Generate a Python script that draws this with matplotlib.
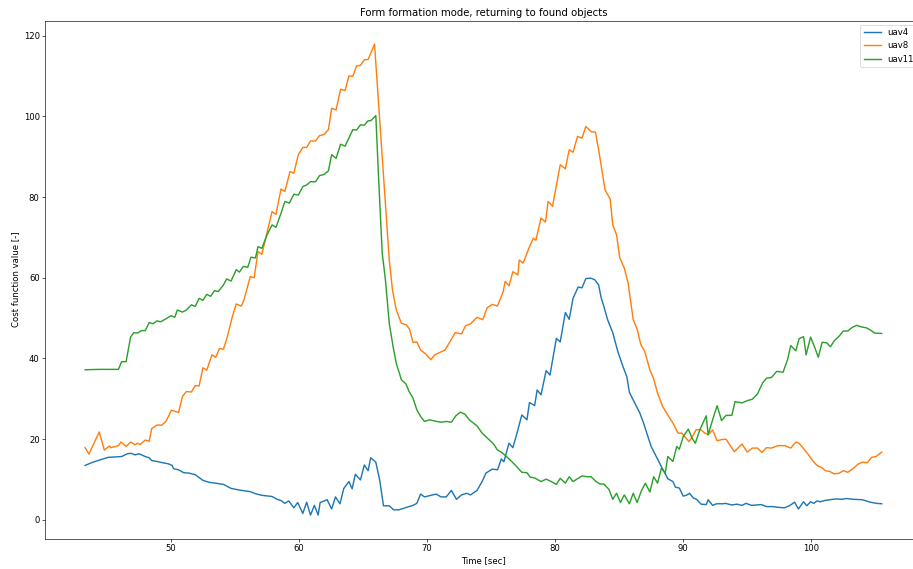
import matplotlib
matplotlib.use("Agg")
import matplotlib.pyplot as plt

# values
t4 = [43.3, 43.9, 45.1, 46.15, 46.6, 46.9, 47.2, 47.5, 48.0, 48.3, 48.5, 48.9, 49.3, 49.8, 50.1, 50.2,
      50.6, 51.0, 51.4, 51.9, 52.5, 53.0, 53.5, 54.1, 54.7, 55.35, 56.2, 56.6, 57.1, 57.9, 58.3, 58.6,
      58.9, 59.2, 59.6, 59.9, 60.3, 60.6, 60.9, 61.2, 61.5, 61.65, 62.2, 62.55, 62.85, 63.2, 63.5, 63.9,
      64.15, 64.4, 64.8, 65.1, 65.4, 65.6, 66.0, 66.3, 66.6, 67.05, 67.4, 67.8, 68.9, 69.2, 69.5, 69.8,
      70.7, 71.1, 71.5, 71.9, 72.3, 72.7, 73.1, 73.4, 73.9, 74.3, 74.6, 75.1, 75.5, 75.8, 76.0, 76.4,
      76.7, 77.0, 77.4, 77.8, 78.0, 78.4, 78.6, 78.9, 79.3, 79.6, 80.1, 80.4, 80.8, 81.1, 81.4, 81.8,
      82.1, 82.4, 82.8, 83.1, 83.4, 83.6, 83.8, 84.1, 84.5, 84.9, 85.3, 85.6, 85.8, 86.2, 86.6, 86.9,
      87.2, 87.5, 87.9, 88.3, 88.6, 88.8, 89.2, 89.4, 89.7, 90.0, 90.25, 90.5, 90.8, 91.05, 91.4, 91.8,
      91.95, 92.3, 92.6, 93.1, 93.3, 93.8, 94.2, 94.6, 94.9, 95.35, 95.7, 96.1, 96.5, 97.0, 97.5, 97.9,
      98.3, 98.7, 99.0, 99.4, 99.65, 99.95, 100.2, 100.45, 100.7, 101.05, 101.45, 101.95, 102.4, 102.75,
      103.3, 104.0, 104.6, 105.1, 105.5]
uav4 = [13.5, 14.3, 15.5, 15.7, 16.4, 16.5, 16.1, 16.4, 15.7, 15.4, 14.7, 14.5, 14.2, 13.9, 13.5, 12.7,
        12.4, 11.7, 11.6, 11.2, 9.8, 9.3, 9.1, 8.8, 7.8, 7.4, 7.0, 6.5, 6.1, 5.8, 5.1, 4.8,
        4.1, 4.7, 3.0, 4.3, 1.6, 4.4, 1.2, 3.6, 1.2, 4.3, 5.0, 2.7, 5.7, 4.0, 7.8, 9.5,
        7.7, 11.3, 9.9, 13.6, 12.2, 15.4, 14.3, 9.9, 3.5, 3.5, 2.5, 2.5, 3.6, 4.1, 6.4, 5.7,
        6.4, 5.7, 5.7, 7.3, 5.1, 6.2, 6.6, 6.2, 7.3, 9.5, 11.6, 12.6, 12.4, 15.1, 14.4, 19.0,
        17.9, 21.2, 26.0, 24.8, 29.1, 28.3, 32.2, 31.0, 37.0, 35.9, 45.0, 44.1, 51.4, 49.7, 54.9, 57.7,
        57.5, 59.8, 59.9, 59.5, 58.2, 55.0, 53.0, 49.6, 46.4, 41.7, 38.0, 35.5, 31.6, 29.1, 26.6, 24.1,
        21.1, 18.2, 15.7, 13.2, 11.4, 10.2, 9.5, 8.1, 7.9, 5.9, 6.1, 6.6, 5.4, 5.1, 3.9, 3.8,
        5.0, 3.6, 4.0, 4.0, 4.1, 3.7, 3.9, 3.6, 4.1, 3.6, 3.7, 3.8, 3.3, 3.3, 3.1, 3.0,
        3.5, 4.4, 2.7, 4.5, 3.5, 4.5, 4.1, 4.7, 4.5, 4.8, 5.0, 5.2, 5.1, 5.3,
        5.1, 5.0, 4.4, 4.1, 4.0]

t8 = [43.3, 43.6, 44.4, 44.8, 45.2, 45.3, 45.9, 46.1, 46.5, 46.85, 47.2, 47.4, 47.6, 48.0, 48.3, 48.5,
      48.9, 49.3, 49.6, 49.8, 50.05, 50.6, 50.9, 51.2, 51.6, 51.9, 52.2, 52.5, 52.8, 53.2, 53.5, 53.8,
      54.1, 54.4, 54.8, 55.1, 55.5, 55.7, 56.2, 56.5, 56.8, 57.1, 57.9, 58.2, 58.6, 58.9, 59.3, 59.6,
      59.95, 60.3, 60.6, 60.9, 61.3, 61.6, 61.95, 62.3, 62.55, 62.9, 63.25, 63.6, 63.9, 64.2, 64.5, 64.8,
      65.1, 65.4, 65.9, 67.05, 67.3, 67.6, 68.0, 68.4, 68.65, 68.9, 69.2, 69.5, 69.9, 70.3, 70.6, 71.0,
      71.4, 71.8, 72.2, 72.7, 73.0, 73.4, 73.9, 74.35, 74.7, 75.1, 75.5, 75.95, 76.1, 76.4, 76.7, 77.1,
      77.2, 77.5, 78.0, 78.3, 78.5, 78.9, 79.25, 79.45, 79.8, 80.4, 80.8, 81.1, 81.4, 81.75, 82.1, 82.4,
      82.8, 83.15, 83.4, 83.9, 84.3, 84.5, 84.8, 85.05, 85.4, 85.7, 86.1, 86.4, 86.7, 87.0, 87.4, 87.7,
      88.0, 88.4, 88.8, 89.2, 89.6, 89.9, 90.45, 90.7, 91.0, 91.35, 91.7, 91.95, 92.3, 92.65, 93.0, 93.35,
      93.7, 94.0, 94.4, 94.6, 95.0, 95.4, 95.8, 96.15, 96.5, 96.9, 97.4, 97.95, 98.4, 98.8, 99.05, 99.5,
      99.8, 100.1, 100.45, 100.8, 101.1, 101.45, 101.8, 102.2, 102.5, 102.85, 103.3, 103.65, 104.0, 104.4,
      104.7, 105.05, 105.5]
uav8 = [17.9, 16.3, 21.8, 17.3, 18.3, 17.9, 18.4, 19.3, 18.2, 19.3, 18.6, 19.0, 18.7, 19.8, 19.5, 22.6,
        23.5, 23.5, 24.4, 25.6, 27.2, 26.6, 30.6, 31.8, 31.7, 33.3, 33.2, 37.7, 37.1, 40.9, 40.3, 42.5,
        42.3, 45.3, 50.4, 53.5, 53.0, 54.5, 60.3, 60.0, 66.5, 65.8, 76.4, 75.7, 82.0, 81.4, 86.3, 85.9,
        90.5, 92.3, 92.3, 93.9, 93.9, 95.2, 95.5, 96.7, 102.0, 101.6, 106.7, 106.4, 110.0, 109.9, 112.5, 112.6,
        114.0, 114.1, 117.9, 64.4, 57.0, 52.0, 48.7, 48.3, 47.1, 44.0, 44.1, 42.1, 41.1, 39.7, 40.9, 41.5,
        42.1, 44.2, 46.4, 46.1, 48.1, 48.6, 50.2, 49.6, 52.6, 53.4, 53.0, 56.6, 59.1, 58.0, 61.5, 60.7,
        64.4, 63.6, 67.7, 69.8, 69.3, 74.8, 73.8, 78.9, 77.7, 88.0, 87.0, 91.7, 91.1, 95.0, 94.6, 97.5,
        96.2, 96.1, 91.7, 81.8, 79.5, 73.1, 70.6, 64.9, 62.4, 58.7, 49.6, 47.3, 43.4, 41.7, 37.2, 34.9,
        31.4, 28.1, 26.0, 24.0, 21.5, 21.5, 19.4, 20.5, 22.3, 22.4, 21.5, 21.1, 22.3, 19.6, 19.9, 20.0,
        18.3, 16.9, 18.2, 18.8, 16.8, 17.8, 17.8, 16.7, 17.9, 17.8, 18.4, 18.4, 17.8, 19.3, 19.0, 17.3,
        16.1, 14.7, 13.5, 13.0, 12.2, 12.0, 11.4, 11.6, 12.2, 11.8, 12.8, 13.8, 14.3, 14.2,
        15.5, 15.7, 16.8]

t11 = [43.3, 44.4, 45.9, 46.15, 46.5, 46.85, 47.1, 47.4, 47.7, 48.0, 48.3, 48.6, 48.9, 49.2, 49.6, 50.0,
       50.3, 50.5, 50.9, 51.2, 51.6, 51.9, 52.2, 52.5, 52.8, 53.1, 53.4, 53.7, 54.1, 54.35, 54.7, 55.1,
       55.35, 55.65, 56.0, 56.25, 56.6, 56.8, 57.1, 57.5, 57.9, 58.2, 58.6, 58.9, 59.25, 59.6, 59.95, 60.3,
       60.6, 60.9, 61.3, 61.6, 61.95, 62.3, 62.55, 62.9, 63.25, 63.6, 63.95, 64.2, 64.5, 64.8, 65.1, 65.4,
       65.6, 66.0, 66.2, 66.5, 66.75, 67.05, 67.35, 67.6, 68.0, 68.35, 68.6, 68.9, 69.2, 69.5, 69.8, 70.2,
       70.75, 71.1, 71.5, 71.9, 72.25, 72.6, 72.95, 73.3, 73.9, 74.3, 74.8, 75.2, 75.5, 75.8, 76.2, 76.6,
       77.0, 77.4, 77.8, 78.05, 78.4, 78.9, 79.3, 79.7, 80.1, 80.4, 80.8, 81.1, 81.4, 81.8, 82.1, 82.5,
       82.8, 83.2, 83.5, 83.8, 84.2, 84.5, 84.8, 85.1, 85.4, 85.8, 86.1, 86.4, 86.75, 87.05, 87.4, 87.7,
       88.0, 88.3, 88.6, 88.8, 89.2, 89.5, 89.7, 90.0, 90.4, 90.7, 90.95, 91.3, 91.8, 91.95, 92.3, 92.65,
       93.0, 93.35, 93.8, 94.05, 94.6, 95.05, 95.4, 95.8, 96.2, 96.5, 96.9, 97.3, 97.8, 98.15, 98.4, 98.8,
       99.05, 99.4, 99.6, 99.95, 100.3, 100.55, 100.85, 101.2, 101.5, 101.8, 102.2, 102.5, 102.85, 103.2,
       103.55, 103.95, 104.3, 104.6, 104.95, 105.5]
uav11 = [37.2, 37.3, 37.3, 39.2, 39.2, 45.3, 46.4, 46.3, 46.9, 46.9, 48.9, 48.6, 49.3, 49.1, 49.8, 50.6,
         50.2, 52.0, 51.5, 52.0, 53.3, 52.9, 54.9, 54.4, 55.9, 55.4, 56.8, 56.6, 58.2, 59.7, 59.2, 62.0,
         61.4, 62.8, 62.6, 65.1, 64.9, 67.7, 67.3, 70.6, 73.1, 72.5, 76.0, 78.9, 78.5, 80.7, 80.5, 82.6,
         83.0, 83.8, 83.8, 85.3, 85.6, 86.5, 90.5, 89.6, 93.1, 92.6, 95.0, 96.7, 96.6, 97.9, 97.8, 98.9,
         98.9, 100.2, 85.9, 66.1, 59.5, 48.7, 42.9, 38.8, 34.7, 33.7, 31.8, 30.2, 27.3, 25.6, 24.4, 24.8,
         24.4, 24.2, 24.4, 24.2, 25.8, 26.7, 26.2, 24.8, 23.3, 21.5, 20.0, 18.8, 17.3, 16.8, 15.7, 14.5,
         13.2, 11.8, 11.7, 10.6, 10.4, 9.5, 10.1, 9.5, 8.8, 10.3, 9.1, 10.7, 9.5, 10.3, 10.9, 10.7,
         10.7, 9.5, 8.9, 8.9, 7.6, 5.1, 6.6, 4.3, 6.2, 4.0, 6.6, 4.3, 7.3, 9.1, 6.9, 10.7,
         9.1, 12.8, 11.6, 15.7, 14.5, 18.2, 17.5, 20.6, 22.5, 20.2, 19.0, 22.3, 25.8, 21.1, 24.8, 28.3,
         24.6, 25.9, 25.9, 29.3, 29.0, 29.6, 29.9, 31.2, 33.9, 35.1, 35.3, 36.8, 36.6, 39.7, 43.2, 41.9,
         44.9, 45.4, 40.9, 45.3, 42.5, 40.3, 44.0, 43.9, 42.9, 44.4, 45.6, 46.8, 46.8, 47.7,
         48.2, 47.8, 47.6, 47.1, 46.3, 46.2]

plt.rcParams.update({'font.size': 10.7, 'lines.linewidth': 1.8})

fig = plt.figure(figsize=(16, 569 / 57.0625))
# the reference is cropped on the right, so the axes run slightly past the edge
ax = fig.add_axes([0.0496, 0.0534, 0.9597, 0.9105])

ax.plot(t4, uav4, label='uav4')
ax.plot(t8, uav8, label='uav8')
ax.plot(t11, uav11, label='uav11')

ax.set_title('Form formation mode, returning to found objects')
ax.set_xlabel('Time [sec]')
ax.set_ylabel('Cost function value [-]')
ax.legend(loc='upper right')

fig.savefig('out.png', dpi=57.0625)
